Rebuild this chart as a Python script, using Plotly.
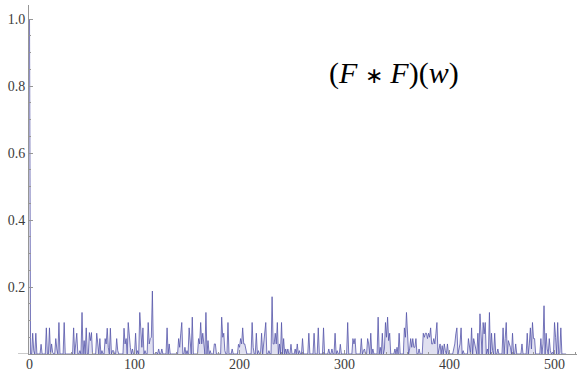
import numpy as np
import plotly.graph_objects as go

# sample indices and values (all other samples are 0)
peak_idx = [0, 3, 4, 6, 11, 16, 19, 21, 22, 25, 26, 28, 33,
            42, 44, 45, 48, 50, 52, 54, 57, 58, 59, 64, 65, 67, 69, 72, 73, 74, 75, 77, 79, 80, 83, 84,
            90, 91, 92, 94, 95, 96, 98, 101, 103, 105, 106, 107, 108, 110, 113, 114, 115, 116, 117, 121, 123, 126, 131, 133,
            142, 143, 144, 145, 148, 150, 152, 153, 155, 161, 162, 163, 164, 165, 166, 168, 170, 172, 176, 177,
            183, 184, 185, 186, 189, 193, 199, 200, 201, 202, 203, 204, 205, 206, 212, 213, 216, 218, 221, 223, 224, 225, 228,
            231, 232, 233, 234, 235, 236, 238, 240, 242, 244, 246, 249, 253, 255, 257, 260, 266, 271, 275, 280, 285, 288,
            291, 293, 296, 303, 308, 309, 310, 316, 318, 319, 322, 323, 325, 327, 332, 334, 336, 338, 339, 340, 341, 342, 343,
            348, 350, 352, 357, 358, 359, 360, 362, 363, 364, 365, 366, 367, 368, 371, 375, 376, 377, 378, 379, 380, 381, 382,
            383, 384, 385, 386, 387, 388, 390, 391, 393, 395, 396, 398, 404, 405, 406, 407, 409, 410, 411, 413, 418, 419, 421,
            423, 424, 425, 427, 429, 430, 432, 433, 434, 436, 438, 440, 441, 443, 446, 451, 453, 454, 456, 457, 458, 460, 463,
            469, 474, 476, 477, 478, 479, 480, 481, 487, 489, 490, 492, 493, 495, 496, 498, 500, 501, 503, 505, 506]
peak_val = [1.0, 0.062, 0.01, 0.062, 0.029, 0.078, 0.078, 0.03, 0.005, 0.046, 0.015, 0.094, 0.094,
            0.078, 0.03, 0.062, 0.01, 0.124, 0.04, 0.078, 0.064, 0.04, 0.064, 0.062, 0.02, 0.046, 0.01, 0.046, 0.03, 0.077, 0.02, 0.077, 0.01, 0.01, 0.046, 0.01,
            0.077, 0.03, 0.046, 0.094, 0.046, 0.02, 0.015, 0.062, 0.01, 0.124, 0.06, 0.02, 0.078, 0.01, 0.094, 0.03, 0.046, 0.05, 0.188, 0.005, 0.015, 0.015, 0.078, 0.03,
            0.046, 0.02, 0.06, 0.094, 0.02, 0.01, 0.078, 0.04, 0.11, 0.046, 0.03, 0.094, 0.03, 0.062, 0.03, 0.124, 0.04, 0.01, 0.03, 0.03,
            0.11, 0.05, 0.062, 0.01, 0.094, 0.015, 0.029, 0.02, 0.046, 0.03, 0.078, 0.03, 0.03, 0.01, 0.094, 0.02, 0.062, 0.01, 0.062, 0.03, 0.05, 0.094, 0.01,
            0.171, 0.03, 0.03, 0.062, 0.03, 0.094, 0.03, 0.094, 0.046, 0.015, 0.015, 0.029, 0.015, 0.03, 0.01, 0.046, 0.062, 0.062, 0.078, 0.078, 0.015, 0.015,
            0.062, 0.01, 0.029, 0.094, 0.046, 0.03, 0.046, 0.046, 0.01, 0.015, 0.046, 0.03, 0.062, 0.015, 0.11, 0.02, 0.062, 0.015, 0.094, 0.05, 0.11, 0.04, 0.062,
            0.015, 0.02, 0.062, 0.078, 0.05, 0.124, 0.046, 0.015, 0.046, 0.02, 0.046, 0.02, 0.02, 0.046, 0.015, 0.062, 0.05, 0.062, 0.062, 0.046, 0.062, 0.05, 0.078,
            0.03, 0.03, 0.046, 0.03, 0.06, 0.094, 0.015, 0.03, 0.025, 0.03, 0.01, 0.03, 0.015, 0.03, 0.06, 0.078, 0.015, 0.03, 0.078, 0.01, 0.046, 0.015, 0.078,
            0.046, 0.03, 0.015, 0.062, 0.12, 0.03, 0.094, 0.06, 0.094, 0.015, 0.124, 0.062, 0.01, 0.062, 0.015, 0.078, 0.046, 0.094, 0.04, 0.03, 0.02, 0.062, 0.03,
            0.03, 0.062, 0.03, 0.078, 0.015, 0.094, 0.046, 0.046, 0.046, 0.03, 0.144, 0.062, 0.015, 0.046, 0.01, 0.005, 0.094, 0.05, 0.094, 0.005, 0.078]
n_points = 512

x_tickvals = [0, 100, 200, 300, 400, 500]
x_ticktext = ["0", "100", "200", "300", "400", "500"]
y_tickvals = [0.2, 0.4, 0.6, 0.8, 1.0]
y_ticktext = ["0.2", "0.4", "0.6", "0.8", "1.0"]
title_text = "(<i>F</i> <span style='font-size:22px'>\u2217</span> <i>F</i>)(<i>w</i>)"

w = np.arange(n_points)
vals = np.zeros(n_points)
vals[peak_idx] = peak_val

axis_col = "rgb(150,150,150)"
serif = "Liberation Serif"
lab_font = dict(family=serif, size=14, color="rgb(60,60,60)")

fig = go.Figure()
fig.add_trace(go.Scatter(
    x=w, y=vals, mode="lines",
    line=dict(color="rgb(85,85,170)", width=0.8),
    fill="tozeroy", fillcolor="rgba(85,85,170,0.18)",
    hoverinfo="skip", showlegend=False,
))

fig.update_layout(
    width=577, height=371,
    margin=dict(l=29, r=0, t=5, b=17, autoexpand=False),
    paper_bgcolor="white", plot_bgcolor="white",
    xaxis=dict(range=[-0.5, 521.4], showgrid=False, zeroline=False, automargin=False,
               showline=True, linecolor=axis_col, linewidth=1,
               tickmode="array", tickvals=x_tickvals, ticktext=x_ticktext,
               ticks="inside", ticklen=4, tickcolor=axis_col, tickfont=lab_font,
               ticklabelstandoff=-3,
               minor=dict(dtick=20, tick0=0, ticks="inside", ticklen=2, tickcolor=axis_col),
               fixedrange=True),
    yaxis=dict(range=[0, 1.0418], showgrid=False, zeroline=False, automargin=False,
               showline=True, linecolor=axis_col, linewidth=1,
               tickmode="array", tickvals=y_tickvals, ticktext=y_ticktext,
               ticks="inside", ticklen=4, tickcolor=axis_col, tickfont=lab_font,
               minor=dict(dtick=0.05, tick0=0, ticks="inside", ticklen=2, tickcolor=axis_col),
               fixedrange=True),
    shapes=[dict(type="line", xref="paper", yref="y", x0=-0.02, x1=0, y0=0, y1=0,
                 line=dict(color=axis_col, width=1))],
    annotations=[dict(text=title_text, xref="paper", yref="paper", x=0.666, y=0.805,
                      xanchor="center", yanchor="middle", showarrow=False,
                      font=dict(family=serif, size=30, color="black"))],
)

fig.write_html("out.html", config={"displayModeBar": False},
               post_script="document.body.style.margin='0';document.body.style.overflow='hidden';")
